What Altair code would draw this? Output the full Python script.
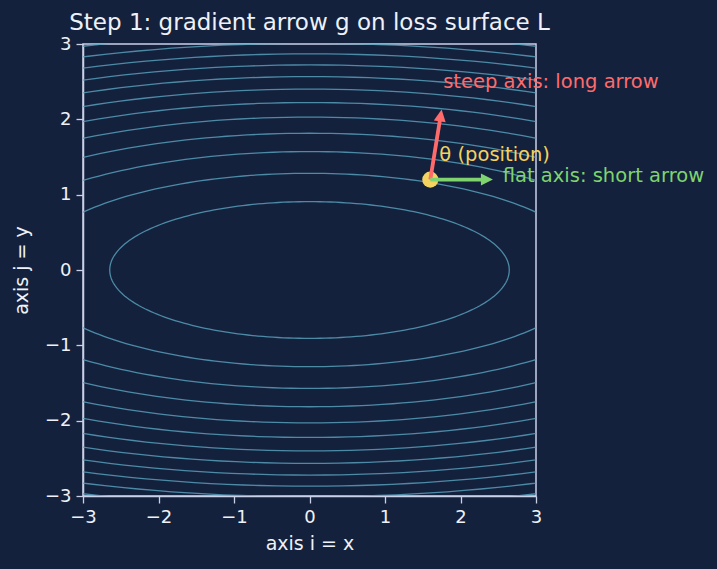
import math
import altair as alt
import pandas as pd

# ---- data ----
LOSS_A = 1.0          # L = A*x^2 + B*y^2  (flat along x, steep along y)
LOSS_B = 8.5
LEVELS = [7, 14, 21, 28, 35, 42, 49, 56, 63, 70, 77, 84]

THETA = [1.6, 1.2]                # current position
STEEP_TIP = [1.75, 2.13]          # red arrow tip
FLAT_TIP = [2.43, 1.2]            # green arrow tip

LABEL_TEXT = ["steep axis: long arrow", "θ (position)", "flat axis: short arrow"]
LABEL_X = [1.77, 1.72, 2.56]
LABEL_Y = [2.50, 1.52, 1.25]
LABEL_COLOR = ["#ff6b6b", "#f4d35e", "#7fd46f"]

X_TICKS = [-3, -2, -1, 0, 1, 2, 3]
Y_TICKS = [-3, -2, -1, 0, 1, 2, 3]

# ---- style ----
BG = "#14213d"
FRAME = "#c9d1e8"
TXT = "#eef1f8"
FONT = "DejaVu Sans"
W, H = 453, 452
PX_PER_UNIT = W / 6.0

# contour polylines (ellipses of the quadratic surface)
rows = []
N = 240
for lv in LEVELS:
    rx = math.sqrt(lv / LOSS_A)
    ry = math.sqrt(lv / LOSS_B)
    for i in range(N + 1):
        t = 2 * math.pi * i / N
        rows.append({"level": lv, "t": i, "x": rx * math.cos(t), "y": ry * math.sin(t)})
contours = pd.DataFrame(rows)

xs = alt.Scale(domain=[-3, 3], nice=False, zero=False)
ys = alt.Scale(domain=[-3, 3], nice=False, zero=False)

MINUS = "replace(format(datum.value, 'd'), '-', '\u2212')"
xaxis = alt.Axis(values=X_TICKS, title="axis i = x", grid=False, tickSize=7,
                 labelPadding=5, titlePadding=8, labelFlush=False, labelExpr=MINUS,
                 labelOverlap=False)
yaxis = alt.Axis(values=Y_TICKS, title="axis j = y", grid=False, tickSize=7,
                 labelPadding=5, titlePadding=13, labelFlush=False, labelExpr=MINUS,
                 labelOverlap=False)

contour_layer = alt.Chart(contours).mark_line(
    clip=True, color="#5aa5c0", opacity=0.8, strokeWidth=1.3
).encode(
    x=alt.X("x:Q", scale=xs, axis=xaxis),
    y=alt.Y("y:Q", scale=ys, axis=yaxis),
    detail="level:N",
    order="t:Q",
)


def arrow(tip, color, width):
    dx = tip[0] - THETA[0]
    dy = tip[1] - THETA[1]
    length = math.hypot(dx, dy)
    back = 9.0 / PX_PER_UNIT
    ex = tip[0] - dx / length * back
    ey = tip[1] - dy / length * back
    seg = pd.DataFrame({"x": [THETA[0]], "y": [THETA[1]], "x2": [ex], "y2": [ey]})
    head = pd.DataFrame({"x": [tip[0]], "y": [tip[1]]})
    ang = math.degrees(math.atan2(dx, dy))
    line = alt.Chart(seg).mark_rule(color=color, strokeWidth=width, strokeCap="butt").encode(
        x=alt.X("x:Q", scale=xs), y=alt.Y("y:Q", scale=ys), x2="x2:Q", y2="y2:Q")
    hd = alt.Chart(head).mark_point(
        shape="M0,0 L-1,2 L1,2 Z", filled=True, color=color, opacity=1, size=144,
        angle=ang % 360, strokeWidth=0
    ).encode(x=alt.X("x:Q", scale=xs), y=alt.Y("y:Q", scale=ys))
    return line + hd


steep = arrow(STEEP_TIP, "#ff6b6b", 3.8)
flat = arrow(FLAT_TIP, "#7fd46f", 3.8)

pt = alt.Chart(pd.DataFrame({"x": [THETA[0]], "y": [THETA[1]]})).mark_circle(
    color="#f4d35e", opacity=1, size=260
).encode(x=alt.X("x:Q", scale=xs), y=alt.Y("y:Q", scale=ys))

labels = alt.Chart(pd.DataFrame({"text": LABEL_TEXT, "x": LABEL_X, "y": LABEL_Y,
                                 "c": LABEL_COLOR})).mark_text(
    align="left", baseline="middle", font=FONT, fontSize=19.5
).encode(
    x=alt.X("x:Q", scale=xs), y=alt.Y("y:Q", scale=ys),
    text="text:N", color=alt.Color("c:N", scale=None),
)

chart = alt.layer(contour_layer, pt, steep, flat, labels).properties(
    width=W, height=H,
    title=alt.TitleParams("Step 1: gradient arrow g on loss surface L", anchor="middle",
                          frame="group", font=FONT, fontSize=23, fontWeight="normal",
                          color=TXT, offset=1, dy=1),
    background=BG,
    padding={"left": 83, "top": 44, "right": 181, "bottom": 73},
    autosize=alt.AutoSizeParams(type="none"),
).configure_view(
    stroke=FRAME, strokeWidth=1.5, fill=BG
).configure_axis(
    domainColor=FRAME, domainWidth=1.5, tickColor=FRAME, tickWidth=1.3,
    labelColor=TXT, titleColor=TXT, labelFont=FONT, titleFont=FONT,
    labelFontSize=18, titleFontSize=19, titleFontWeight="normal"
)

chart.save("out.html", embed_options={"renderer": "svg", "actions": False})
